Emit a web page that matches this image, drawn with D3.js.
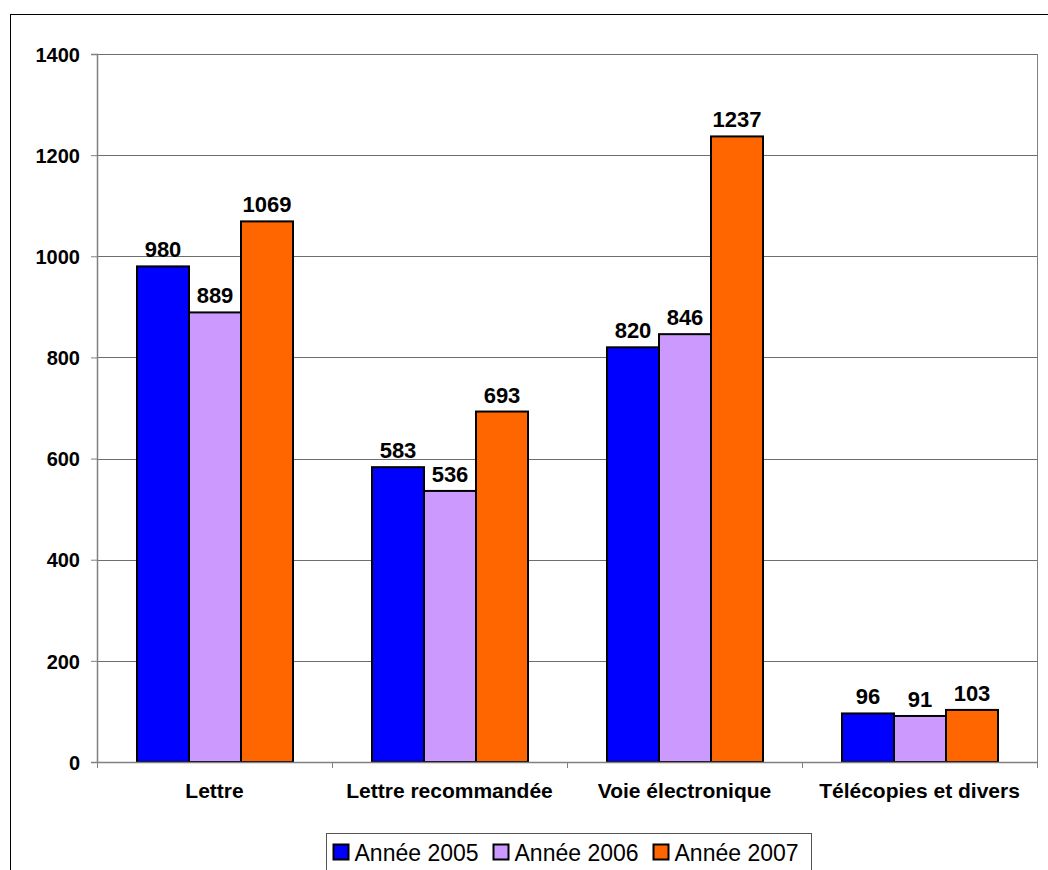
<!DOCTYPE html>
<html>
<head>
<meta charset="utf-8">
<script src="https://cdn.jsdelivr.net/npm/d3@7"></script>
<style>
  body { margin: 0; background: #fff; }
  text { font-family: Arial, "Liberation Sans", sans-serif; }
</style>
</head>
<body>
<div id="chart"></div>
<script>
var categories = ["Lettre", "Lettre recommandée", "Voie électronique", "Télécopies et divers"];
var seriesNames = ["Année 2005", "Année 2006", "Année 2007"];
var values2005 = [980, 583, 820, 96];
var values2006 = [889, 536, 846, 91];
var values2007 = [1069, 693, 1237, 103];
var yTicks = [0, 200, 400, 600, 800, 1000, 1200, 1400];
var colors = ["#0000ff", "#cc99ff", "#ff6600"];

var svgWidth = 1048;
var svgHeight = 870;
var margin = { top: 54, right: 11, bottom: 108, left: 97 };
var width = svgWidth - margin.left - margin.right;
var height = svgHeight - margin.top - margin.bottom;

var svg = d3.select("#chart")
    .append("svg")
    .attr("width", svgWidth)
    .attr("height", svgHeight);

// outer chart frame (cropped at right and bottom)
svg.append("rect")
    .attr("x", 10.5)
    .attr("y", 14.5)
    .attr("width", 1100)
    .attr("height", 1000)
    .attr("fill", "none")
    .attr("stroke", "#000")
    .attr("stroke-width", 1);

var chartGroup = svg.append("g")
    .attr("transform", `translate(${margin.left}, ${margin.top})`);

var x0 = d3.scaleBand()
    .domain(categories)
    .range([0, width]);

var x1 = d3.scaleBand()
    .domain(seriesNames)
    .range([40, 40 + 156]);

var y = d3.scaleLinear()
    .domain([0, 1400])
    .range([height, 0]);

// gridlines
chartGroup.selectAll(".grid")
    .data(yTicks.slice(1))
    .enter()
    .append("line")
    .attr("x1", 0)
    .attr("x2", width)
    .attr("y1", d => Math.round(y(d)) + 0.5)
    .attr("y2", d => Math.round(y(d)) + 0.5)
    .attr("stroke", "#6e6e6e")
    .attr("stroke-width", 1);

// plot area right edge
chartGroup.append("line")
    .attr("x1", width + 0.5)
    .attr("x2", width + 0.5)
    .attr("y1", 0)
    .attr("y2", height)
    .attr("stroke", "#808080");

var data = categories.map(function (c, i) {
    return { cat: c, vals: [values2005[i], values2006[i], values2007[i]] };
});

var groups = chartGroup.selectAll(".group")
    .data(data)
    .enter()
    .append("g")
    .attr("transform", d => `translate(${x0(d.cat)}, 0)`);

groups.selectAll("rect")
    .data(d => d.vals.map((v, j) => ({ v: v, s: seriesNames[j], j: j })))
    .enter()
    .append("rect")
    .attr("x", d => x1(d.s))
    .attr("y", d => y(d.v))
    .attr("width", x1.bandwidth())
    .attr("height", d => height - y(d.v))
    .attr("fill", d => colors[d.j])
    .attr("stroke", "#000")
    .attr("stroke-width", 2);

groups.selectAll(".val")
    .data(d => d.vals.map((v, j) => ({ v: v, s: seriesNames[j] })))
    .enter()
    .append("text")
    .attr("x", d => x1(d.s) + x1.bandwidth() / 2)
    .attr("y", d => y(d.v) - 9)
    .attr("text-anchor", "middle")
    .attr("font-size", "22px")
    .attr("font-weight", "bold")
    .attr("fill", "#000")
    .text(d => d.v);

// y axis
var leftAxis = d3.axisLeft(y)
    .tickValues(yTicks)
    .tickSize(6)
    .tickPadding(11)
    .tickFormat(d3.format("d"));
var yAxis = chartGroup.append("g").call(leftAxis);
yAxis.attr("font-size", null).attr("font-family", null);
yAxis.select(".domain").attr("stroke", "#808080").attr("stroke-width", 1.5);
yAxis.selectAll(".tick line").attr("stroke", "#808080");
yAxis.selectAll("text")
    .attr("dy", "0.36em")
    .style("font-size", "20px")
    .style("font-weight", "bold")
    .attr("fill", "#000");

// x axis
var bottomAxis = d3.axisBottom(x0).tickSize(0).tickPadding(21);
var xAxis = chartGroup.append("g")
    .attr("transform", `translate(0, ${height})`)
    .call(bottomAxis);
xAxis.attr("font-size", null).attr("font-family", null);
xAxis.select(".domain").attr("stroke", "#808080").attr("stroke-width", 1.5);
xAxis.selectAll("text")
    .style("font-size", "21px")
    .style("font-weight", "bold")
    .attr("fill", "#000");

// x ticks at category boundaries
chartGroup.selectAll(".xtick")
    .data(categories.concat(["end"]))
    .enter()
    .append("line")
    .attr("x1", (d, i) => i * x0.step() + 0.5)
    .attr("x2", (d, i) => i * x0.step() + 0.5)
    .attr("y1", height)
    .attr("y2", height + 6)
    .attr("stroke", "#808080");

// legend
var legend = svg.append("g").attr("transform", "translate(326.5, 833.5)");
legend.append("rect")
    .attr("width", 485)
    .attr("height", 40)
    .attr("fill", "#fff")
    .attr("stroke", "#555")
    .attr("stroke-width", 1);

var legendX = [7, 167, 327];
seriesNames.forEach(function (s, i) {
    legend.append("rect")
        .attr("x", legendX[i])
        .attr("y", 11)
        .attr("width", 15)
        .attr("height", 15)
        .attr("fill", colors[i])
        .attr("stroke", "#000")
        .attr("stroke-width", 2);
    legend.append("text")
        .attr("x", legendX[i] + 21)
        .attr("y", 27)
        .style("font-size", "23px")
        .attr("fill", "#000")
        .text(s);
});
</script>
</body>
</html>
